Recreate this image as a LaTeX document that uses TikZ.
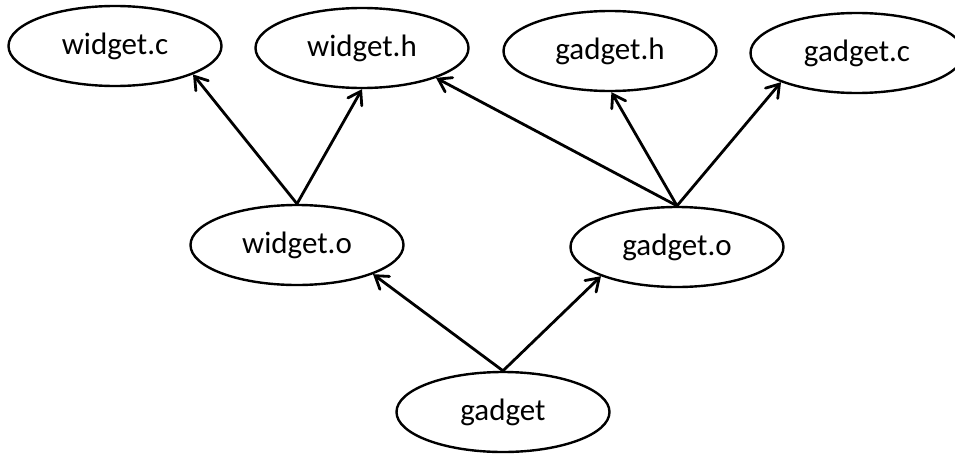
\documentclass[tikz,border=0pt]{standalone}
\usepackage{fontspec}
\setmainfont{Carlito}
\usetikzlibrary{shapes.geometric,arrows.meta}
\tikzset{
  file/.style={ellipse, draw=black, line width=2.4pt, minimum width=213pt, minimum height=80pt, inner sep=0pt, font=\fontsize{31}{36}\selectfont},
  dep/.style={line width=2.8pt, -{Straight Barb[length=12pt,width=16pt,line cap=round]}}
}
\begin{document}
\begin{tikzpicture}[x=1pt,y=-1pt]
\useasboundingbox (0,0) rectangle (955,455);
\clip (0,0) rectangle (955,455);
\node[file] (wc) at (115,46) {widget.c};
\node[file] (wh) at (362,48) {widget.h};
\node[file] (gh) at (610,51) {gadget.h};
\node[file] (gc) at (857,53) {gadget.c};
\node[file] (wo) at (297,245) {widget.o};
\node[file] (go) at (677,247) {gadget.o};
\node[file] (g) at (503,412) {gadget};
\draw[dep] (wo.north) -- (wc.-20.6);
\draw[dep] (wo.north) -- (wh.south);
\draw[dep] (go.north) -- (wh.-22.8);
\draw[dep] (go.north) -- (gh.-88);
\draw[dep] (go.north) -- (gc.201.3);
\draw[dep] (g.north) -- (wo.-21);
\draw[dep] (g.north) -- (go.201.3);
\end{tikzpicture}
\end{document}
